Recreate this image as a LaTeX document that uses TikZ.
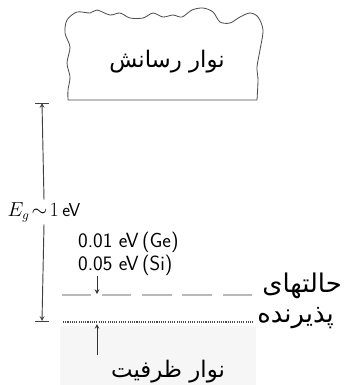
\documentclass[tikz,border=0pt]{standalone}
\usepackage{fontspec}
\newfontfamily\farsi[Script=Arabic]{DejaVu Sans}
\TeXXeTstate=1
\usetikzlibrary{positioning}
\tikzset{
  fa/.style={font=\farsi\fontsize{19.5}{21}\selectfont, inner sep=1pt},
  fas/.style={font=\farsi\fontsize{22}{24}\selectfont, inner sep=1pt, anchor=west},
  val/.style={font=\sffamily\fontsize{17.5}{18}\selectfont, inner sep=0pt, anchor=west},
  level/.style={line width=0.9pt, gray!60!black},
}
\begin{document}
\begin{tikzpicture}[x=0.03cm, y=-0.03cm, >=stealth]
  \useasboundingbox (0,0) rectangle (345,385);
  % valence band
  \fill[gray!7] (60,326) rectangle (256,385);
  % conduction band
  \draw[gray!60!black, line width=0.7pt] plot[smooth] coordinates {(68,100) (68,90) (70,77) (67,63) (70,47) (65,33) (67,20)
    (77,12) (90,13) (97,10) (110,15) (120,13) (130,18) (143,18) (153,13) (163,17) (173,15) (182,17) (192,10)
    (203,8) (213,12) (220,22) (230,23) (240,17) (250,13) (258,17) (263,30) (260,50) (257,67) (258,80) (257,100)} -- cycle;
  \node[fa] (cb) at (167,62) {\beginR نوار رسانش\endR};
  % band gap
  \coordinate (gtop) at (42,103);
  \coordinate (gbot) at (42,321);
  \node[inner sep=2pt, font=\fontsize{16}{17}\selectfont] (eg) at (44,212) {$E_g\!\sim\!1\,$\textsf{eV}};
  \draw[->, thick, gray!50!black] (eg.north) -- (gtop);
  \draw[->, thick, gray!50!black] (eg.south) -- (gbot);
  \draw[thick, gray!50!black] (35,103) -- (49,103);
  \draw[thick, gray!50!black] (35,321) -- (49,321);
  % acceptor level
  \node[val] (ge) at (78,242) {0.01 eV\,(Ge)};
  \node[val, below=2pt of ge.south west, anchor=north west] (si) {0.05 eV\,(Si)};
  \coordinate (acc) at (97,294);
  \draw[level, gray!55, dash pattern=on 25pt off 9.25pt] (62,295) -- (253,295);
  \draw[->, thick, gray!40!black] (si.south -| acc) -- (acc);
  \node[fas] (st1) at (261,286) {\beginR حالتهای\endR};
  \node[fas] (st2) at (256,318) {\beginR پذیرنده\endR};
  % valence band edge
  \draw[level, densely dotted] (63,322) -- (253,322);
  \coordinate (vtop) at (97,324);
  \coordinate (vbot) at (97,355);
  \draw[->, thick, gray!40!black] (vbot) -- (vtop);
  \node[fa] (vb) at (168,372) {\beginR نوار ظرفیت\endR};
\end{tikzpicture}
\end{document}
